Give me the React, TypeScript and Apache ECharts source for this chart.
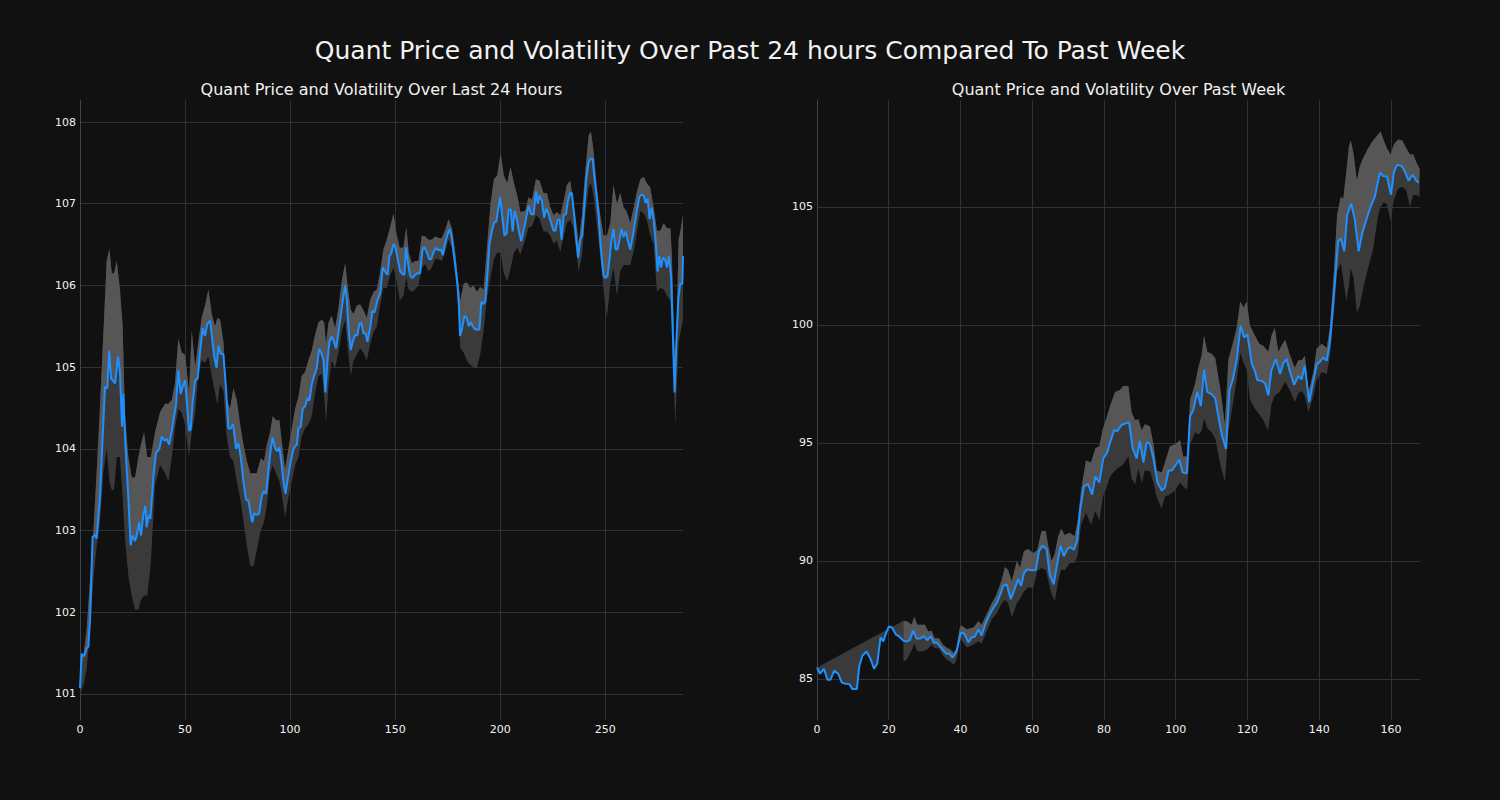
import React, { useEffect, useRef } from "react";
import * as echarts from "echarts";

// ---------- Left panel: last 24 hours ----------
const leftPriceX = [0, 0.8, 1.9, 3.2, 4, 4.8, 6, 7.1, 7.9, 9.5, 10.8, 11.9, 13, 13.9, 14.8, 16.7, 18.1, 19, 20, 20.6, 21.7, 23, 24.1, 25, 26.2, 27, 28.1, 29, 30.2, 31.1, 31.7, 32.7, 33.5, 34.9, 36.2, 37.8, 38.9, 40.2, 41.3, 42.4, 43.7, 44.8, 45.7, 46.8, 47.9, 48.9, 50, 50.8, 51.9, 52.7, 53.7, 54.8, 56, 57.1, 58.4, 59.5, 60.6, 61.9, 63.2, 63.9, 65, 65.9, 67, 68.2, 69.5, 70.6, 71.7, 72.9, 74.3, 75.4, 76.5, 77.8, 79, 80.2, 81.3, 82, 82.9, 84.1, 85.3, 86.4, 87.3, 88.6, 89.7, 90.8, 91.7, 92.9, 94, 94.9, 96, 96.8, 97.8, 98.7, 100, 101.3, 102.1, 103.2, 104, 105.1, 106, 107.1, 108.3, 109.2, 110.3, 111.4, 112.7, 113.8, 114.8, 115.9, 116.8, 117.8, 118.7, 119.8, 120.6, 121.9, 123, 124.1, 125.1, 126.2, 127, 127.9, 128.9, 129.8, 130.9, 132, 133, 133.9, 134.9, 136, 136.8, 138.1, 139.2, 140.2, 141.6, 142.9, 144.1, 145.2, 146.4, 147.3, 148.1, 149.2, 150.1, 151.3, 152.4, 153.5, 154.4, 155.2, 156.2, 157.1, 158.2, 159.5, 160.6, 161.9, 163, 163.9, 165, 166.2, 167.1, 168.3, 169.4, 170.5, 171.8, 172.7, 173.7, 175, 175.9, 176.8, 177.8, 178.7, 179.7, 180.3, 180.9, 181.9, 183, 184.1, 185, 186, 186.9, 188, 189.1, 190.1, 191, 192, 192.9, 194, 194.9, 196, 197.1, 198.1, 199, 200, 200.9, 202, 203.1, 204, 205, 205.9, 206.9, 207.8, 208.9, 210, 211.9, 213.5, 214.6, 215.9, 217, 217.9, 218.7, 219.8, 220.9, 221.9, 223.2, 224.3, 225.4, 226.3, 227.3, 228.3, 229.2, 230.2, 231.3, 232.2, 233.3, 234.1, 235.2, 236.2, 237.1, 238.1, 239, 240, 240.9, 242, 242.9, 244, 244.8, 245.7, 246.8, 247.6, 248.4, 249.2, 250.1, 251.1, 252, 253, 253.9, 254.9, 255.8, 256.8, 257.7, 258.7, 259.7, 260.6, 261.9, 263, 264.1, 265, 266.2, 267.1, 268.3, 269.2, 270.2, 271.1, 272.1, 273, 274, 274.9, 275.7, 276.5, 277.5, 278.4, 279.4, 280.3, 281.3, 282.2, 283, 283.8, 284.8, 285.7, 286.7, 287];
const leftPrice = [101.07, 101.49, 101.46, 101.56, 101.58, 101.93, 102.92, 102.95, 102.9, 103.4, 104.15, 104.76, 104.74, 105.2, 104.86, 104.8, 105.13, 104.94, 104.27, 104.67, 104.0, 103.4, 102.82, 102.94, 102.87, 102.94, 103.1, 102.94, 103.2, 103.3, 103.04, 103.19, 103.14, 103.65, 103.95, 104.0, 104.15, 104.1, 104.12, 104.05, 104.22, 104.4, 104.54, 104.96, 104.67, 104.76, 104.84, 104.59, 104.22, 104.24, 104.59, 104.84, 104.86, 105.18, 105.48, 105.38, 105.53, 105.57, 105.28, 105.13, 104.99, 105.26, 105.16, 105.16, 104.74, 104.25, 104.25, 104.3, 104.0, 104.07, 103.9, 103.6, 103.38, 103.36, 103.19, 103.1, 103.21, 103.19, 103.21, 103.4, 103.48, 103.45, 103.75, 104.0, 104.14, 104.0, 103.97, 104.02, 103.8, 103.6, 103.45, 103.6, 103.8, 103.97, 104.02, 104.05, 104.25, 104.27, 104.49, 104.52, 104.62, 104.59, 104.79, 104.89, 104.99, 105.22, 105.18, 105.08, 104.69, 105.08, 105.31, 105.38, 105.33, 105.23, 105.43, 105.63, 105.82, 106.0, 105.82, 105.43, 105.21, 105.31, 105.39, 105.39, 105.53, 105.54, 105.41, 105.41, 105.31, 105.48, 105.69, 105.67, 105.82, 105.91, 106.22, 106.17, 106.13, 106.36, 106.39, 106.51, 106.47, 106.31, 106.17, 106.14, 106.13, 106.47, 106.26, 106.12, 106.09, 106.13, 106.15, 106.15, 106.44, 106.47, 106.41, 106.32, 106.32, 106.41, 106.46, 106.43, 106.44, 106.37, 106.51, 106.63, 106.69, 106.61, 106.41, 106.22, 106.0, 105.77, 105.38, 105.48, 105.63, 105.6, 105.5, 105.55, 105.5, 105.46, 105.46, 105.46, 105.8, 105.77, 105.8, 106.17, 106.51, 106.66, 106.77, 106.78, 106.93, 107.08, 106.86, 106.61, 106.64, 106.93, 106.93, 106.66, 106.91, 106.83, 106.66, 106.54, 106.76, 106.98, 106.87, 106.87, 107.15, 107.0, 107.1, 107.04, 106.83, 106.94, 106.86, 106.76, 106.67, 106.67, 106.8, 106.81, 106.56, 106.86, 106.87, 107.03, 107.13, 107.13, 106.86, 106.56, 106.34, 106.56, 106.61, 106.96, 107.28, 107.5, 107.55, 107.55, 107.33, 107.13, 106.86, 106.56, 106.32, 106.12, 106.09, 106.12, 106.32, 106.56, 106.69, 106.44, 106.44, 106.56, 106.69, 106.59, 106.66, 106.56, 106.44, 106.59, 106.76, 106.91, 107.08, 107.11, 107.1, 107.01, 107.06, 106.81, 106.95, 106.8, 106.54, 106.17, 106.36, 106.22, 106.34, 106.32, 106.22, 106.36, 106.12, 105.38, 104.69, 105.28, 105.85, 106.02, 106.02, 106.36];

const leftBandX = [0, 1.6, 3.2, 4.8, 6.4, 7.9, 9.5, 11.1, 12.7, 14, 15.1, 16.2, 17.5, 19, 20.3, 21.4, 23, 24.6, 26.2, 27.8, 29, 30.5, 32, 33.7, 35.7, 38.1, 40.5, 42.1, 43.7, 45.2, 46.8, 48.4, 50, 51.9, 53.2, 54.8, 56.3, 57.9, 59.5, 61.1, 62.7, 64.3, 65.4, 66.7, 68.3, 69.8, 71.4, 73, 74.6, 76.2, 77.8, 79.4, 81, 82.5, 84.1, 86, 87.6, 88.9, 90.5, 91.7, 93.3, 94.9, 96, 97.6, 99.2, 100.8, 102.4, 104, 105.5, 107.1, 108.7, 110.3, 111.9, 113.5, 115.1, 116.2, 117.1, 118.3, 119.8, 121.4, 123, 124.6, 126.2, 127.8, 128.9, 130.2, 131.7, 133.3, 134.9, 136.5, 138.1, 139.7, 141.3, 142.9, 144.4, 146, 147.6, 149.2, 150.7, 152.2, 153.9, 155.3, 156.5, 157.9, 159.5, 161.1, 162.7, 164.3, 165.9, 167.5, 169, 170.7, 172.2, 173.8, 175.4, 177, 178.6, 180.2, 181, 182.6, 184.1, 185.7, 187.3, 188.9, 190.5, 192.1, 193.7, 195.4, 197, 198.6, 200.2, 201.7, 203.3, 204.9, 206.5, 208.1, 209.6, 211.9, 213.5, 215.1, 217, 218.7, 220.6, 222.2, 223.8, 225.4, 227, 228.6, 230.2, 231.7, 233.3, 234.9, 236.5, 237.3, 238.9, 240.5, 242.1, 243.2, 244.4, 246, 247.6, 249.2, 250.8, 252.4, 253.9, 255.6, 257.1, 258.7, 260.3, 261.9, 263.5, 265.1, 266.7, 268.3, 269.8, 271.4, 273, 274.6, 276.2, 277.8, 279.4, 281, 281.7, 282.5, 283.3, 284.1, 284.9, 286, 287];
const leftBandUpper = [101.15, 101.45, 101.8, 102.4, 103.0, 103.7, 104.5, 105.4, 106.3, 106.45, 106.15, 106.15, 106.3, 105.95, 105.5, 104.4, 103.9, 103.65, 103.65, 103.9, 104.05, 104.2, 103.9, 103.9, 104.2, 104.45, 104.55, 104.55, 104.6, 104.8, 105.35, 105.18, 105.15, 104.69, 105.45, 105.0, 105.3, 105.6, 105.75, 105.95, 105.65, 105.5, 105.6, 105.58, 105.3, 104.6, 104.49, 104.74, 104.6, 104.3, 104.05, 103.85, 103.7, 103.7, 103.7, 103.88, 103.85, 104.05, 104.2, 104.4, 104.35, 104.35, 104.1, 103.75, 104.0, 104.25, 104.49, 104.64, 104.89, 104.94, 105.08, 105.2, 105.4, 105.55, 105.58, 105.55, 105.28, 105.55, 105.63, 105.48, 105.72, 106.05, 106.27, 105.9, 105.7, 105.65, 105.75, 105.77, 105.7, 105.6, 105.82, 105.92, 105.95, 106.17, 106.44, 106.56, 106.71, 106.88, 106.62, 106.46, 106.46, 106.71, 106.4, 106.27, 106.3, 106.3, 106.61, 106.6, 106.56, 106.56, 106.6, 106.58, 106.58, 106.68, 106.81, 106.7, 106.4, 106.0, 105.82, 106.02, 106.04, 105.97, 106.0, 105.92, 105.98, 105.95, 106.46, 107.0, 107.3, 107.35, 107.62, 107.35, 107.25, 107.45, 107.25, 107.1, 106.9, 106.91, 107.08, 107.05, 107.3, 107.28, 107.13, 107.13, 106.96, 106.86, 106.9, 106.86, 107.03, 107.23, 107.28, 107.0, 106.71, 106.51, 106.86, 107.4, 107.84, 107.88, 107.65, 107.2, 106.86, 106.61, 106.61, 106.76, 107.23, 107.0, 107.13, 106.96, 106.9, 106.76, 106.95, 107.15, 107.3, 107.33, 107.25, 107.2, 106.96, 106.67, 106.67, 106.76, 106.7, 106.7, 106.36, 105.58, 104.89, 105.6, 106.56, 106.7, 106.86];
const leftBandLower = [101.0, 101.1, 101.3, 101.8, 102.4, 102.8, 103.1, 103.7, 104.0, 103.6, 103.5, 103.5, 103.9, 103.9, 103.4, 102.9, 102.45, 102.2, 102.03, 102.03, 102.15, 102.2, 102.2, 102.6, 103.55, 103.8, 103.7, 103.6, 103.9, 104.25, 104.49, 104.44, 104.3, 103.9, 104.2, 104.44, 104.89, 105.08, 105.05, 105.13, 104.89, 104.69, 104.54, 104.79, 104.7, 104.15, 103.9, 103.85, 103.6, 103.4, 103.11, 102.82, 102.57, 102.56, 102.75, 103.0, 103.1, 103.3, 103.7, 103.8, 103.7, 103.6, 103.45, 103.16, 103.4, 103.6, 103.8, 103.9, 104.15, 104.25, 104.3, 104.4, 104.69, 104.89, 104.92, 104.64, 104.32, 104.79, 105.08, 104.99, 105.18, 105.43, 105.58, 105.13, 104.89, 105.08, 105.15, 105.23, 105.18, 105.08, 105.28, 105.43, 105.5, 105.77, 105.97, 105.97, 106.12, 106.22, 106.05, 105.82, 105.87, 106.1, 105.95, 105.92, 105.95, 106.0, 106.22, 106.26, 106.17, 106.22, 106.32, 106.32, 106.3, 106.41, 106.56, 106.46, 106.17, 105.68, 105.23, 105.18, 105.08, 105.03, 105.0, 104.99, 105.15, 105.45, 105.85, 106.1, 106.32, 106.4, 106.4, 106.15, 106.05, 106.2, 106.4, 106.46, 106.38, 106.56, 106.71, 106.72, 106.86, 106.82, 106.66, 106.66, 106.61, 106.51, 106.55, 106.41, 106.6, 106.76, 106.8, 106.7, 106.36, 106.17, 106.36, 106.86, 107.2, 107.25, 107.1, 106.75, 106.35, 105.95, 105.6, 106.02, 106.22, 105.87, 106.17, 106.25, 106.25, 106.25, 106.41, 106.66, 106.91, 106.88, 106.8, 106.61, 106.51, 105.92, 105.97, 105.95, 105.87, 105.82, 105.5, 104.9, 104.3, 104.79, 105.3, 105.45, 105.58];

// ---------- Right panel: past week ----------
const rightPriceX = [0, 0.84, 1.95, 2.9, 3.8, 4.8, 5.9, 6.9, 7.8, 9, 9.9, 11.1, 11.8, 12.7, 13.8, 15, 15.9, 16.8, 17.7, 18.5, 19, 20, 20.9, 22, 23, 24.1, 25, 25.9, 26.8, 27.8, 28.7, 29.8, 30.8, 31.7, 32.6, 33.5, 34.8, 36, 36.9, 37.8, 38.9, 40.1, 41, 42.2, 43.1, 44, 45, 45.9, 46.8, 48, 49.2, 50.1, 51, 51.9, 52.9, 54, 54.9, 56.1, 56.9, 57.7, 58.6, 59.8, 61, 61.9, 62.8, 64, 64.9, 66, 66.9, 67.9, 68.8, 69.8, 70.7, 71.6, 72.5, 73.4, 74.4, 75.5, 76.7, 77.6, 78.7, 79.8, 80.9, 81.9, 82.8, 83.7, 84.9, 86.1, 87, 88, 89.1, 90, 91, 91.9, 92.8, 93.8, 94.9, 96.1, 97, 98, 98.9, 100.1, 101, 101.9, 103.1, 104, 104.9, 106, 107, 107.9, 108.8, 110, 111, 111.9, 112.8, 114, 115, 115.9, 117, 118.1, 119.1, 120, 121.2, 122.1, 122.7, 123.9, 124.9, 125.8, 126.7, 127.9, 129.1, 130, 130.9, 131.9, 133, 134.2, 135.1, 136, 137.2, 138.2, 139.3, 140.2, 141.1, 142.1, 143, 143.9, 144.7, 145.3, 146, 147, 147.8, 148.9, 149.9, 151, 152, 153.2, 154.3, 155.5, 156.9, 157.8, 158.9, 160, 160.8, 161.7, 162.9, 163.8, 164.9, 166, 167.1, 167.8];
const rightPrice = [85.48, 85.22, 85.43, 84.97, 84.97, 85.36, 85.22, 84.85, 84.8, 84.78, 84.57, 84.57, 85.56, 85.99, 86.16, 85.82, 85.43, 85.65, 86.76, 86.59, 86.84, 87.22, 87.18, 86.88, 86.79, 86.62, 86.59, 86.65, 87.05, 86.71, 86.71, 86.81, 86.64, 86.82, 86.53, 86.53, 86.28, 86.07, 86.07, 85.9, 86.16, 86.96, 86.93, 86.55, 86.76, 86.79, 87.1, 86.84, 87.27, 87.69, 88.03, 88.21, 88.55, 88.94, 89.01, 88.38, 88.72, 89.23, 88.94, 89.48, 89.65, 89.6, 89.62, 90.42, 90.64, 90.51, 89.4, 89.01, 89.82, 90.64, 90.2, 90.51, 90.59, 90.47, 90.85, 92.21, 93.15, 93.27, 92.81, 93.58, 93.32, 94.34, 94.6, 95.11, 95.54, 95.49, 95.76, 95.83, 95.88, 94.77, 94.34, 95.08, 94.17, 95.03, 94.97, 94.34, 93.32, 92.98, 93.1, 93.83, 93.83, 94.09, 94.29, 93.75, 93.71, 96.13, 96.39, 97.16, 96.56, 98.09, 97.16, 97.07, 96.9, 96.13, 95.37, 94.74, 97.24, 97.67, 98.52, 99.97, 99.46, 99.6, 98.35, 98.04, 97.67, 97.63, 97.53, 97.02, 98.09, 98.55, 97.92, 98.38, 98.55, 98.0, 97.46, 97.84, 97.7, 98.27, 96.73, 97.5, 98.32, 98.44, 98.61, 98.49, 99.29, 100.91, 102.44, 103.55, 103.67, 103.12, 104.66, 105.14, 104.49, 103.12, 103.89, 104.49, 105.0, 105.43, 106.45, 106.31, 106.28, 105.51, 106.45, 106.79, 106.74, 106.53, 106.11, 106.36, 106.11, 106.02];

// upper edge of the shaded wedge before the rolling band starts
const rightLeadX = [0, 24.1];
const rightLeadUpper = [85.48, 87.47];

const rightBandX = [24.1, 25, 26.4, 27.1, 28, 28.9, 30.1, 31, 31.9, 32.8, 34, 35.1, 36.1, 37.2, 38.1, 38.9, 39.7, 40.1, 41.8, 43.6, 45, 45.9, 47.3, 48.7, 50.1, 51.5, 52.4, 53.3, 54.3, 55.7, 56.6, 57.7, 58.9, 60.3, 61.4, 62.6, 63.8, 64.4, 65.4, 66.3, 67.2, 68.1, 69, 70.5, 71.8, 72.7, 73.6, 75, 76.4, 77.6, 78.7, 79.7, 80.6, 81.7, 83.1, 84.5, 85.4, 86.8, 87.7, 88.7, 89.6, 90.5, 91.4, 92.8, 93.8, 94.7, 96.1, 97, 98.4, 99.8, 101.2, 102.1, 103.2, 104, 105.4, 106.3, 107.2, 107.9, 108.8, 110, 111, 112.4, 113.7, 114.7, 115.9, 117, 118, 118.9, 119.8, 120.7, 122.1, 123.3, 124.4, 125.8, 126.7, 127.6, 128.6, 129.5, 130.5, 131.9, 133.2, 134.2, 135.1, 136, 137, 138.4, 139.3, 140.7, 142.1, 143, 144.1, 145, 146, 146.7, 147.6, 148.3, 148.8, 149.6, 150.5, 151.3, 152.2, 153.6, 155, 156.4, 157.1, 158, 158.9, 159.9, 160.8, 162, 163.2, 164.3, 165.3, 166.2, 167.1, 168];
const rightBandUpper = [87.47, 87.44, 87.3, 87.64, 87.3, 87.3, 87.3, 87.01, 87.05, 86.72, 86.72, 86.45, 86.33, 86.24, 86.1, 86.3, 87.1, 87.27, 87.1, 87.18, 87.44, 87.3, 87.75, 88.2, 88.6, 89.2, 89.74, 89.6, 89.14, 89.99, 89.7, 90.42, 90.51, 90.34, 90.45, 91.27, 91.27, 90.68, 90.0, 90.3, 91.02, 91.36, 91.1, 91.19, 91.05, 91.7, 92.98, 94.26, 94.17, 94.77, 94.86, 95.6, 96.0, 96.56, 97.16, 97.24, 97.41, 97.41, 96.3, 95.96, 96.0, 95.54, 95.79, 95.71, 94.94, 93.83, 93.75, 94.17, 94.86, 94.94, 95.11, 94.43, 94.43, 96.82, 97.5, 98.18, 98.69, 99.54, 98.86, 98.78, 98.6, 97.33, 95.79, 98.52, 99.2, 99.88, 100.99, 100.74, 100.99, 99.97, 99.54, 99.2, 99.12, 98.86, 99.54, 99.88, 98.86, 99.12, 99.37, 98.69, 98.18, 98.5, 98.5, 98.69, 97.16, 98.01, 99.0, 99.2, 99.03, 99.88, 102.27, 104.66, 105.43, 105.34, 106.53, 107.56, 107.81, 107.22, 106.11, 106.71, 107.05, 107.48, 107.81, 108.07, 108.2, 107.81, 107.48, 107.22, 107.64, 107.86, 107.81, 107.48, 107.22, 107.22, 106.88, 106.62];
const rightBandLower = [85.73, 85.82, 86.2, 86.5, 86.16, 86.16, 86.21, 86.28, 86.45, 86.3, 86.3, 85.99, 85.82, 85.73, 85.6, 85.8, 86.59, 86.67, 86.33, 86.45, 86.6, 86.5, 87.01, 87.52, 87.78, 88.21, 88.35, 88.2, 87.61, 88.2, 88.4, 88.7, 88.89, 88.85, 89.57, 89.7, 89.6, 89.2, 88.6, 88.29, 89.14, 89.65, 89.6, 89.91, 89.91, 90.25, 91.53, 92.04, 91.53, 92.13, 91.7, 92.72, 93.06, 93.58, 93.83, 94.0, 94.1, 94.43, 93.49, 93.24, 93.92, 93.3, 93.83, 93.8, 93.32, 92.7, 92.21, 92.72, 92.81, 92.98, 93.32, 93.15, 93.03, 94.94, 95.45, 95.35, 95.5, 96.05, 95.62, 95.45, 95.2, 94.1, 93.35, 95.5, 96.6, 97.7, 98.8, 98.4, 98.1, 96.82, 96.45, 96.2, 95.96, 95.54, 96.65, 97.0, 97.1, 97.3, 97.6, 97.2, 96.73, 97.1, 97.2, 97.0, 96.3, 97.0, 97.67, 98.01, 97.92, 98.69, 100.57, 102.27, 102.61, 101.93, 101.0, 101.7, 102.4, 102.0, 100.5, 100.8, 101.5, 102.4, 103.2, 104.6, 105.0, 105.2, 105.1, 104.4, 105.3, 105.77, 105.85, 105.68, 105.0, 105.51, 105.51, 105.43];

// ---------- Texts ----------
const mainTitle = "Quant Price and Volatility Over Past 24 hours Compared To Past Week";
const leftTitle = "Quant Price and Volatility Over Last 24 Hours";
const rightTitle = "Quant Price and Volatility Over Past Week";

const BG = "#111111";
const GRID = "#2a323d";
const SPINE = "#3a4452";
const LINE = "#1e90ff";
const BAND_DARK = "#3a3a3a";
const BAND_LIGHT = "#565656";
const TEXT = "#f2f2f2";
const FONT = "DejaVu Sans";

function bandSeries(
  idx: number,
  bandX: number[],
  upper: number[],
  lower: number[],
  priceX: number[],
  price: number[],
  leadX?: number[],
  leadUpper?: number[]
) {
  return {
    type: "custom",
    xAxisIndex: idx,
    yAxisIndex: idx,
    z: 1,
    silent: true,
    data: [[priceX[0], price[0]]],
    renderItem: (_params: any, api: any) => {
      const pts = (xs: number[], ys: number[]) => xs.map((x, i) => api.coord([x, ys[i]]));
      const up = pts(bandX, upper);
      const lo = pts(bandX, lower);
      const x0 = bandX[0];
      const x1 = bandX[bandX.length - 1];
      const midX: number[] = [];
      const midY: number[] = [];
      priceX.forEach((x, i) => {
        if (x >= x0 && x <= x1) {
          midX.push(x);
          midY.push(price[i]);
        }
      });
      const mid = pts(midX, midY);
      const children: any[] = [
        {
          type: "polygon",
          shape: { points: up.concat(lo.slice().reverse()) },
          style: { fill: BAND_DARK },
        },
        {
          type: "polygon",
          shape: { points: up.concat(mid.slice().reverse()) },
          style: { fill: BAND_LIGHT },
        },
      ];
      if (leadX && leadUpper) {
        const lx: number[] = [];
        const ly: number[] = [];
        priceX.forEach((x, i) => {
          if (x <= leadX[leadX.length - 1]) {
            lx.push(x);
            ly.push(price[i]);
          }
        });
        children.unshift({
          type: "polygon",
          shape: { points: pts(leadX, leadUpper).concat(pts(lx, ly).reverse()) },
          style: { fill: BAND_DARK },
        });
      }
      return { type: "group", children };
    },
  };
}

function xAxisCfg(idx: number, max: number, splitNumber: number) {
  return {
    type: "value",
    gridIndex: idx,
    min: 0,
    max,
    splitNumber,
    axisLine: { show: false },
    axisTick: { show: false },
    axisLabel: {
      color: TEXT,
      fontSize: 11,
      fontFamily: FONT,
      margin: 4,
      showMaxLabel: false,
    },
    splitLine: {
      show: true,
      showMinLine: false,
      showMaxLine: false,
      lineStyle: { color: GRID, width: 1 },
    },
  };
}

function yAxisCfg(idx: number, min: number, max: number, splitNumber: number) {
  return {
    type: "value",
    gridIndex: idx,
    min,
    max,
    splitNumber,
    axisLine: { show: true, lineStyle: { color: SPINE, width: 1 } },
    axisTick: { show: false },
    axisLabel: {
      color: TEXT,
      fontSize: 11,
      fontFamily: FONT,
      margin: 4,
      showMinLabel: false,
      showMaxLabel: false,
    },
    splitLine: {
      show: true,
      showMinLine: false,
      showMaxLine: false,
      lineStyle: { color: GRID, width: 1 },
    },
  };
}

export default function App() {
  const ref = useRef<HTMLDivElement>(null);
  useEffect(() => {
    if (!ref.current) return;
    const chart = echarts.init(ref.current, undefined, { renderer: "svg" });
    chart.setOption({
      animation: false,
      backgroundColor: BG,
      graphic: [
        {
          type: "text",
          x: 750,
          y: 50,
          style: {
            text: mainTitle,
            fill: TEXT,
            font: `25px '${FONT}'`,
            textAlign: "center",
            textVerticalAlign: "middle",
          },
        },
        {
          type: "text",
          x: 381.5,
          y: 89,
          style: {
            text: leftTitle,
            fill: TEXT,
            font: `16px '${FONT}'`,
            textAlign: "center",
            textVerticalAlign: "middle",
          },
        },
        {
          type: "text",
          x: 1118.5,
          y: 89,
          style: {
            text: rightTitle,
            fill: TEXT,
            font: `16px '${FONT}'`,
            textAlign: "center",
            textVerticalAlign: "middle",
          },
        },
      ],
      grid: [
        { left: 80, width: 603, top: 100, height: 620 },
        { left: 817, width: 603, top: 100, height: 620 },
      ],
      xAxis: [xAxisCfg(0, 287, 6), xAxisCfg(1, 168.1, 8)],
      yAxis: [yAxisCfg(0, 100.68, 108.27, 8), yAxisCfg(1, 83.26, 109.53, 5)],
      series: [
        bandSeries(0, leftBandX, leftBandUpper, leftBandLower, leftPriceX, leftPrice),
        {
          type: "line",
          xAxisIndex: 0,
          yAxisIndex: 0,
          z: 3,
          showSymbol: false,
          silent: true,
          data: leftPriceX.map((x, i) => [x, leftPrice[i]]),
          lineStyle: { color: LINE, width: 2 },
          itemStyle: { color: LINE },
        },
        bandSeries(1, rightBandX, rightBandUpper, rightBandLower, rightPriceX, rightPrice, rightLeadX, rightLeadUpper),
        {
          type: "line",
          xAxisIndex: 1,
          yAxisIndex: 1,
          z: 3,
          showSymbol: false,
          silent: true,
          data: rightPriceX.map((x, i) => [x, rightPrice[i]]),
          lineStyle: { color: LINE, width: 2 },
          itemStyle: { color: LINE },
        },
      ],
    });
    return () => chart.dispose();
  }, []);
  return (
    <div
      ref={ref}
      style={{ position: "fixed", left: 0, top: 0, width: 1500, height: 800, background: BG }}
    />
  );
}
